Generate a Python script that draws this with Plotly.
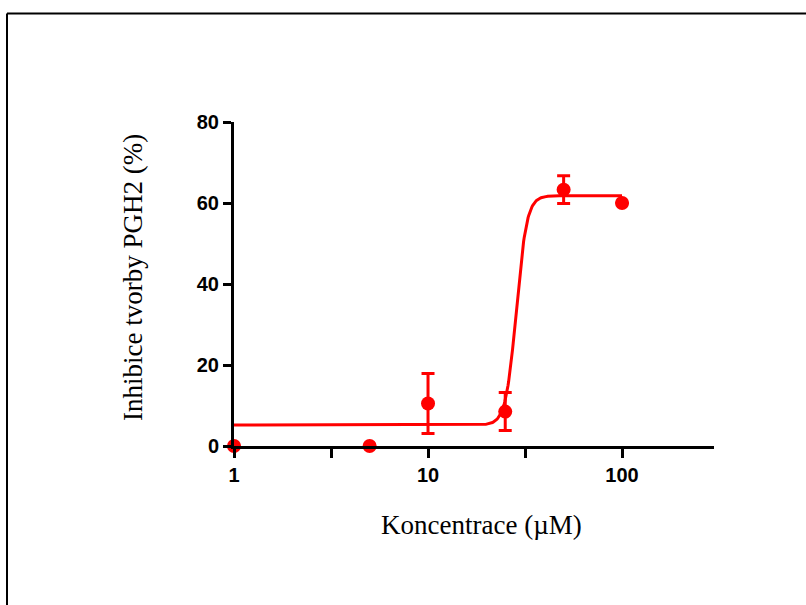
import numpy as np
import plotly.graph_objects as go

# Measured inhibition of PGH2 formation
conc = [1, 5, 10, 25, 50, 100]
inhib = [0, 0, 10.5, 8.5, 63.3, 60.0]
err = [0, 0, 7.4, 4.7, 3.4, 0]

# Fitted sigmoidal dose-response (4PL) parameters
bottom = 5.2
top = 61.8
log_ec50 = 1.455
hill = 16.0

x_tick_vals = [1, 3.1623, 10, 31.623, 100]
x_tick_text = ["1", "", "10", "", "100"]
y_tick_vals = [0, 20, 40, 60, 80]

RED = "#ff0000"

logx = np.linspace(0, 2, 600)
fit_x = 10 ** logx
fit_y = bottom + (top - bottom) / (1 + 10 ** ((log_ec50 - logx) * hill))

fig = go.Figure()
fig.add_trace(go.Scatter(
    x=fit_x, y=fit_y, mode="lines",
    line=dict(color=RED, width=3),
    hoverinfo="skip", cliponaxis=False,
))
fig.add_trace(go.Scatter(
    x=conc, y=inhib, mode="markers",
    marker=dict(color=RED, size=14, symbol="circle"),
    error_y=dict(type="data", array=err, visible=True, color=RED,
                 thickness=3, width=6.5),
    cliponaxis=False,
))

# Outer frame (top and left edges)
fig.add_shape(type="line", xref="paper", yref="paper",
              x0=(7 - 234) / 480, x1=(806 - 234) / 480,
              y0=(446 - 13.5) / 324, y1=(446 - 13.5) / 324,
              line=dict(color="black", width=2))
fig.add_shape(type="line", xref="paper", yref="paper",
              x0=(7 - 234) / 480, x1=(7 - 234) / 480,
              y0=(446 - 13.5) / 324, y1=(446 - 610) / 324,
              line=dict(color="black", width=2))

title_font = dict(family="Liberation Serif", size=27, color="black")
fig.add_annotation(text="Koncentrace (µM)", xref="paper", yref="paper",
                   x=(481 - 234) / 480, y=(446 - 525) / 324,
                   xanchor="center", yanchor="middle", showarrow=False,
                   font=title_font)
fig.add_annotation(text="Inhibice tvorby PGH2 (%)", xref="paper", yref="paper",
                   x=(133 - 234) / 480, y=(446 - 278) / 324, textangle=-90,
                   xanchor="center", yanchor="middle", showarrow=False,
                   font=title_font)

tick_font = dict(family="Liberation Sans", size=20, color="black", weight="bold")

fig.update_layout(
    width=806, height=605,
    margin=dict(l=234, r=92, t=122, b=159),
    paper_bgcolor="white", plot_bgcolor="white",
    showlegend=False,
    xaxis=dict(
        type="log", range=[0, 2.474],
        tickvals=x_tick_vals, ticktext=x_tick_text,
        ticks="outside", ticklen=9, tickwidth=3, tickcolor="black",
        showline=True, linecolor="black", linewidth=3,
        showgrid=False, zeroline=False,
        tickfont=tick_font,
    ),
    yaxis=dict(
        range=[0, 80], tickvals=y_tick_vals,
        ticks="outside", ticklen=8, tickwidth=3, tickcolor="black",
        showline=True, linecolor="black", linewidth=3,
        showgrid=False, zeroline=False,
        tickfont=tick_font,
    ),
)

fig.write_html("out.html")
